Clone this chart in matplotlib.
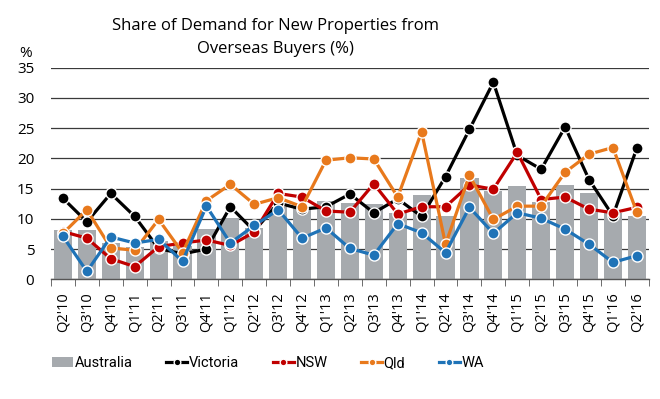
import numpy as np
import matplotlib
matplotlib.use('Agg')
import matplotlib.pyplot as plt
from matplotlib.ticker import FixedLocator

quarters = ["Q2'10", "Q3'10", "Q4'10", "Q1'11", "Q2'11", "Q3'11", "Q4'11",
            "Q1'12", "Q2'12", "Q3'12", "Q4'12", "Q1'13", "Q2'13", "Q3'13",
            "Q4'13", "Q1'14", "Q2'14", "Q3'14", "Q4'14", "Q1'15", "Q2'15",
            "Q3'15", "Q4'15", "Q1'16", "Q2'16"]

australia = [8.2, 8.1, 6.0, 5.3, 6.4, 5.5, 8.3, 10.2, 8.5, 12.0, 11.8, 12.9,
             12.6, 12.4, 11.0, 13.9, 10.4, 16.7, 14.6, 15.5, 12.8, 15.6,
             14.3, 10.9, 10.4]
victoria = [13.4, 9.5, 14.2, 10.4, 5.1, 4.2, 5.0, 12.0, 8.0, 12.6, 11.6, 12.0,
            14.1, 11.0, 13.3, 10.4, 17.0, 24.8, 32.6, 20.5, 18.2, 25.2, 16.5,
            10.5, 21.7]
nsw = [7.9, 6.8, 3.4, 2.1, 5.4, 6.0, 6.5, 5.6, 7.8, 14.2, 13.6, 11.3, 11.1,
       15.8, 10.8, 12.0, 12.0, 15.6, 14.9, 21.0, 13.2, 13.6, 11.6, 11.0, 11.9]
qld = [7.6, 11.5, 5.2, 4.8, 9.9, 4.4, 13.0, 15.7, 12.4, 13.5, 12.0, 19.7,
       20.1, 19.9, 13.6, 24.4, 5.8, 17.2, 9.9, 12.1, 12.1, 17.7, 20.7, 21.8,
       11.1]
wa = [7.1, 1.3, 7.0, 6.0, 6.6, 3.0, 12.1, 6.0, 8.9, 11.5, 6.8, 8.5, 5.1, 4.0,
      9.2, 7.7, 4.4, 11.9, 7.6, 11.0, 10.1, 8.3, 5.8, 2.8, 3.9]

lines = [('Victoria', victoria, '#000000'),
         ('NSW', nsw, '#C00000'),
         ('Qld', qld, '#E8791C'),
         ('WA', wa, '#1F73B7')]

plt.rcParams['font.family'] = ['Open Sans', 'DejaVu Sans']

fig = plt.figure(figsize=(6.6, 3.99), dpi=100)
ax = fig.add_axes([0.0773, 0.30, 0.9057, 0.5303])

x = np.arange(len(quarters))
bars = ax.bar(x, australia, width=0.76, color='#A6AAAE', label='Australia', zorder=2)
handles = [bars]
for name, vals, col in lines:
    ln, = ax.plot(x, vals, '-o', color=col, lw=2.3, ms=8, mec='white', mew=1.0,
                  label=name, zorder=3)
    handles.append(ln)

ax.set_xlim(-0.5, len(quarters) - 0.5)
ax.set_ylim(0, 35)
ax.set_yticks(np.arange(0, 36, 5))
ax.yaxis.grid(True, color='#3a3a3a', lw=0.9, zorder=0)
ax.set_axisbelow(True)
for s in ['top', 'right', 'left']:
    ax.spines[s].set_visible(False)
ax.spines['bottom'].set_color('#555555')
ax.spines['bottom'].set_linewidth(1.0)
ax.spines['bottom'].set_zorder(4)

ax.set_xticks(x)
ax.set_xticklabels(quarters, rotation=90, fontsize=10.5)
ax.xaxis.set_minor_locator(FixedLocator(np.arange(-0.5, len(quarters), 1)))
ax.tick_params(axis='x', which='major', length=0, pad=9)
ax.tick_params(axis='x', which='minor', length=5, color='#555555')
ax.tick_params(axis='y', length=0, pad=12, labelsize=11)

fig.text(0.038, 0.865, '%', fontsize=11, ha='center', va='center')
fig.text(0.418, 0.907, 'Share of Demand for New Properties from\nOverseas Buyers (%)',
         ha='center', va='center', fontsize=12, linespacing=1.6)

leg = fig.legend(handles, [h.get_label() for h in handles],
                 loc='center', bbox_to_anchor=(0.406, 0.09), ncol=5,
                 frameon=False, handlelength=1.45, handletextpad=0.1,
                 columnspacing=2.3, markerscale=0.6,
                 prop={'family': ['Roboto', 'DejaVu Sans'], 'size': 10.5})

fig.savefig('out.png', dpi=100)
